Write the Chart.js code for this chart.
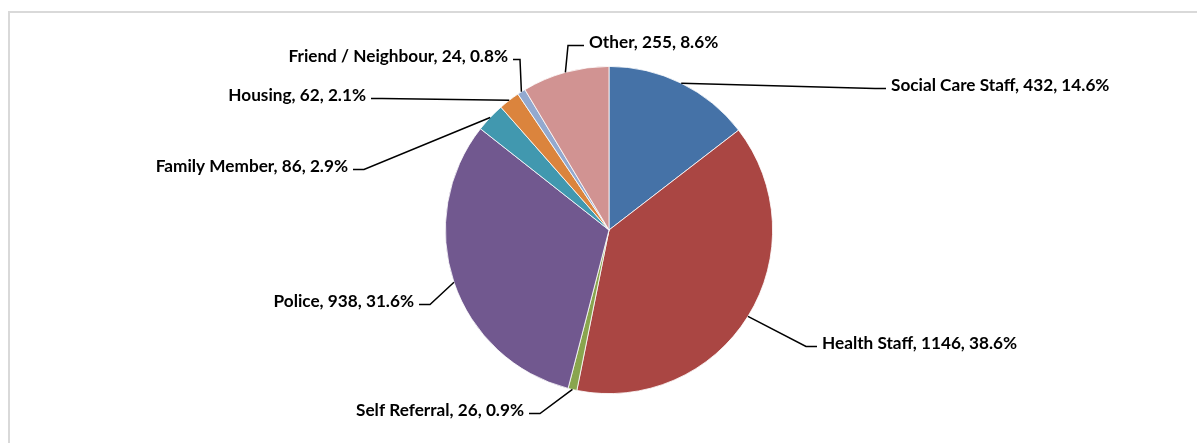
<!DOCTYPE html>
<html>
<head>
<meta charset="utf-8">
<script src="https://cdn.jsdelivr.net/npm/chart.js@4/dist/chart.umd.min.js"></script>
<style>
  html, body { margin: 0; padding: 0; background: #ffffff; overflow: hidden; }
  #wrap { position: relative; width: 1197px; height: 443px; }
  #frame { position: absolute; left: 8px; top: 11px; width: 1300px; height: 600px;
           border: 2px solid #d9d9d9; box-sizing: border-box; }
  canvas { position: absolute; left: 0; top: 0; }
</style>
</head>
<body>
<div id="wrap">
  <div id="frame"></div>
  <canvas id="c" width="1197" height="443"></canvas>
</div>
<script>
// ---- data ----
const categories = ["Social Care Staff", "Health Staff", "Self Referral", "Police",
                    "Family Member", "Housing", "Friend / Neighbour", "Other"];
const referrals = [432, 1146, 26, 938, 86, 62, 24, 255];
const sliceColors = ["#4572A7", "#AA4643", "#89A54E", "#71588F",
                     "#4198AF", "#DB843D", "#93A9CF", "#D19392"];

// ---- label placement (layout only): text anchor x,y and alignment ----
const labelPlacement = [
  { x: 891, y: 85,  align: "left"  },
  { x: 822, y: 343, align: "left"  },
  { x: 524, y: 410, align: "right" },
  { x: 414, y: 301, align: "right" },
  { x: 348, y: 166, align: "right" },
  { x: 366, y: 95,  align: "right" },
  { x: 508, y: 56,  align: "right", elbow: 7 },
  { x: 589, y: 42,  align: "left",  elbow: 16 }
];

const total = referrals.reduce((a, b) => a + b, 0);
const labelText = categories.map((c, i) =>
  `${c}, ${referrals[i]}, ${(referrals[i] / total * 100).toFixed(1)}%`);

const leaderLabels = {
  id: "leaderLabels",
  afterDatasetsDraw(chart) {
    const ctx = chart.ctx;
    const meta = chart.getDatasetMeta(0);
    ctx.save();
    ctx.font = "bold 17.2px Lato, 'Open Sans', sans-serif";
    ctx.textBaseline = "middle";
    ctx.fillStyle = "#000000";
    ctx.strokeStyle = "#000000";
    ctx.lineWidth = 1.5;
    meta.data.forEach((arc, i) => {
      const p = arc.getProps(["x", "y", "startAngle", "endAngle", "outerRadius"], true);
      const mid = (p.startAngle + p.endAngle) / 2;
      const ax = p.x + Math.cos(mid) * p.outerRadius;
      const ay = p.y + Math.sin(mid) * p.outerRadius;
      const lp = labelPlacement[i];
      const el = lp.elbow != null ? lp.elbow : 11;
      const ly = lp.y + 3.5;
      let ex, hx;
      if (lp.align === "left") { hx = lp.x - 5; ex = hx - el; }
      else { hx = lp.x + 5; ex = hx + el; }
      ctx.beginPath();
      ctx.moveTo(ax, ay);
      ctx.lineTo(ex, ly);
      ctx.lineTo(hx, ly);
      ctx.stroke();
      ctx.textAlign = lp.align;
      ctx.fillText(labelText[i], lp.x, lp.y);
    });
    ctx.restore();
  }
};

new Chart(document.getElementById("c"), {
  type: "pie",
  data: {
    labels: categories,
    datasets: [{
      data: referrals,
      backgroundColor: sliceColors,
      borderColor: "#ffffff",
      borderWidth: 0.8
    }]
  },
  options: {
    responsive: false,
    animation: false,
    layout: { padding: { top: 66, bottom: 49, left: 445, right: 424 } },
    plugins: {
      legend: { display: false },
      tooltip: { enabled: false }
    }
  },
  plugins: [leaderLabels]
});
</script>
</body>
</html>
